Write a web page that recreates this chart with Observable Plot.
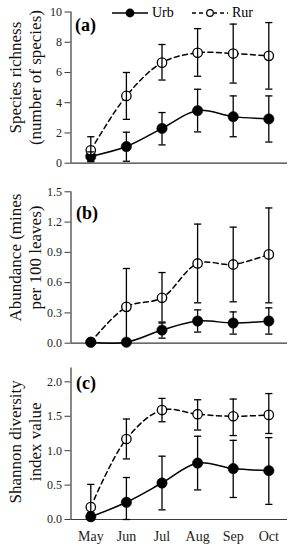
<!DOCTYPE html>
<html><head><meta charset="utf-8">
<script src="https://cdn.jsdelivr.net/npm/d3@7"></script>
<script src="https://cdn.jsdelivr.net/npm/@observablehq/plot@0.6"></script>
<style>
body{margin:0;background:#fff;}
#wrap{position:relative;width:291px;height:550px;overflow:hidden;}
#wrap > div.panel{display:block;line-height:0;}
svg text{font-family:"Liberation Serif","Times New Roman",serif;}
#legend{position:absolute;top:4px;left:0;width:291px;height:18px;font-family:"Liberation Serif",serif;font-size:14px;color:#000;}
#legend .item{position:absolute;top:0;display:flex;align-items:center;height:18px;}
#legend svg{display:block;}
</style></head><body>
<div id="wrap"></div>
<script>
const months = ["May","Jun","Jul","Aug","Sep","Oct"];
const seriesNames = ["Urb","Rur"];

// (a) Species richness (number of species)
const richUrb   = [0.45, 1.10, 2.30, 3.48, 3.08, 2.93];
const richUrbLo = [0.15, 0.13, 1.21, 2.07, 1.75, 1.40];
const richUrbHi = [0.75, 2.05, 3.35, 4.89, 4.45, 4.45];
const richRur   = [0.85, 4.45, 6.65, 7.30, 7.25, 7.10];
const richRurLo = [0.10, 2.90, 5.50, 5.75, 5.30, 4.90];
const richRurHi = [1.75, 6.00, 7.85, 8.90, 9.20, 9.30];

// (b) Abundance (mines per 100 leaves)
const abunUrb   = [0.01, 0.01, 0.13, 0.22, 0.20, 0.22];
const abunUrbLo = [0.01, 0.00, 0.05, 0.11, 0.09, 0.09];
const abunUrbHi = [0.01, 0.03, 0.20, 0.33, 0.31, 0.35];
const abunRur   = [0.01, 0.36, 0.45, 0.79, 0.78, 0.88];
const abunRurLo = [0.01, 0.00, 0.21, 0.40, 0.41, 0.40];
const abunRurHi = [0.01, 0.74, 0.70, 1.18, 1.15, 1.34];

// (c) Shannon diversity index value
const shanUrb   = [0.04, 0.25, 0.53, 0.82, 0.74, 0.71];
const shanUrbLo = [0.00, 0.00, 0.14, 0.43, 0.32, 0.22];
const shanUrbHi = [0.10, 0.61, 0.92, 1.21, 1.15, 1.19];
const shanRur   = [0.18, 1.17, 1.59, 1.53, 1.50, 1.52];
const shanRurLo = [0.00, 0.88, 1.42, 1.30, 1.22, 1.25];
const shanRurHi = [0.51, 1.46, 1.76, 1.74, 1.75, 1.83];

const yTicksA = [0, 2, 4, 6, 8, 10];
const yTicksB = [0, 0.3, 0.6, 0.9, 1.2, 1.5];
const yTicksC = [0, 0.5, 1.0, 1.5, 2.0];

const FONT = "Liberation Serif, Times New Roman, serif";
const AXIS = "#3a3a3a";

function rows(urb, urbLo, urbHi, rur, rurLo, rurHi) {
  const out = [];
  months.forEach((m, i) => {
    out.push({i, s: "Urb", v: urb[i], lo: urbLo[i], hi: urbHi[i]});
    out.push({i, s: "Rur", v: rur[i], lo: rurLo[i], hi: rurHi[i]});
  });
  return out;
}

const capSymbol = {
  draw(context, size) {
    const w = Math.sqrt(size / Math.PI);
    context.moveTo(-w, 0);
    context.lineTo(w, 0);
  }
};

function panel({data, height, marginTop, marginBottom, yDomain, yTicks, yFormat,
                label1, label2, labelDy, tag, tagDx, tagDy, showMonths, urbOnTop}) {
  const urb = data.filter(d => d.s === "Urb");
  const rur = data.filter(d => d.s === "Rur");
  const urbDots = Plot.dot(urb, {x: "i", y: "v", r: 5.2, fill: "#000", stroke: "#000", strokeWidth: 0.5});
  const rurDots = Plot.dot(rur, {x: "i", y: "v", r: 4.7, fill: "#fff", stroke: "#000", strokeWidth: 1.3});
  const marks = [
    Plot.ruleY([yDomain[0]], {stroke: AXIS, strokeWidth: 1.2}),
    Plot.ruleX([-0.556], {stroke: AXIS, strokeWidth: 1.2}),
    Plot.axisY({ticks: yTicks, tickFormat: yFormat, tickSize: 6, tickPadding: 3,
                fontSize: 12, fontFamily: FONT, stroke: AXIS, fill: "#222", label: null}),
    Plot.line(rur, {x: "i", y: "v", curve: "catmull-rom", stroke: "#000", strokeWidth: 1.5, strokeDasharray: "5,3.5"}),
    Plot.line(urb, {x: "i", y: "v", curve: "catmull-rom", stroke: "#000", strokeWidth: 1.5}),
    ...(urbOnTop ? [rurDots, urbDots] : [urbDots, rurDots]),
    Plot.ruleX(data, {x: "i", y1: "lo", y2: "hi", stroke: "#000", strokeWidth: 1.3}),
    Plot.dot(data, {x: "i", y: "hi", r: 3.6, symbol: capSymbol, stroke: "#000", strokeWidth: 1.3, fill: "none"}),
    Plot.dot(data, {x: "i", y: "lo", r: 3.6, symbol: capSymbol, stroke: "#000", strokeWidth: 1.3, fill: "none"}),
    Plot.text([label1], {frameAnchor: "left", rotate: -90, textAnchor: "middle", lineAnchor: "middle",
                         dx: 15 - 70.5, dy: labelDy, fontSize: 17, fontFamily: FONT, fill: "#111"}),
    Plot.text([label2], {frameAnchor: "left", rotate: -90, textAnchor: "middle", lineAnchor: "middle",
                         dx: 35 - 70.5, dy: labelDy, fontSize: 17, fontFamily: FONT, fill: "#111"}),
    Plot.text([tag], {frameAnchor: "top-left", textAnchor: "start", lineAnchor: "middle",
                      dx: tagDx, dy: tagDy, fontSize: 18, fontWeight: "bold", fontFamily: FONT, fill: "#000"})
  ];
  if (showMonths) {
    marks.push(Plot.axisX({ticks: d3.range(months.length), tickFormat: i => months[i], tickSize: 0,
                           tickPadding: 12, fontSize: 14, fontFamily: FONT, fill: "#222", label: null}));
  }
  return Plot.plot({
    width: 291, height, marginLeft: 70.5, marginRight: 4, marginTop, marginBottom,
    style: {fontFamily: FONT, background: "#fff", overflow: "visible"},
    x: {type: "linear", domain: [-0.556, 5.525], axis: null},
    y: {domain: yDomain, axis: null},
    marks
  });
}

const wrap = document.getElementById("wrap");
const fmt1 = d => d.toFixed(1);

const pA = panel({
  data: rows(richUrb, richUrbLo, richUrbHi, richRur, richRurLo, richRurHi),
  height: 180, marginTop: 11.5, marginBottom: 17.3, yDomain: [0, 10], yTicks: yTicksA, yFormat: d => String(d),
  label1: "Species richness", label2: "(number of species)", labelDy: -10,
  tag: "(a)", tagDx: 4, tagDy: 13.5, showMonths: false, urbOnTop: false
});
const pB = panel({
  data: rows(abunUrb, abunUrbLo, abunUrbHi, abunRur, abunRurLo, abunRurHi),
  height: 178, marginTop: 11.3, marginBottom: 15.3, yDomain: [0, 1.5], yTicks: yTicksB, yFormat: fmt1,
  label1: "Abundance (mines", label2: "per 100 leaves)", labelDy: -10,
  tag: "(b)", tagDx: 5, tagDy: 21.5, showMonths: false, urbOnTop: true
});
const pC = panel({
  data: rows(shanUrb, shanUrbLo, shanUrbHi, shanRur, shanRurLo, shanRurHi),
  height: 192, marginTop: 9.6, marginBottom: 31, yDomain: [0, 2.2], yTicks: yTicksC, yFormat: fmt1,
  label1: "Shannon diversity", label2: "index value", labelDy: -2,
  tag: "(c)", tagDx: 5, tagDy: 15, showMonths: true, urbOnTop: false
});

for (const p of [pA, pB, pC]) {
  const d = document.createElement("div");
  d.className = "panel";
  d.appendChild(p);
  wrap.appendChild(d);
}

// Legend (inside panel a, top)
const legend = document.createElement("div");
legend.id = "legend";
const legendItems = [
  {name: seriesNames[0], left: 111, dash: null, fill: "#000", r: 3.8},
  {name: seriesNames[1], left: 191, dash: "4,3", fill: "#fff", r: 3.3}
];
for (const it of legendItems) {
  const item = document.createElement("div");
  item.className = "item";
  item.style.left = it.left + "px";
  const ns = "http://www.w3.org/2000/svg";
  const svg = document.createElementNS(ns, "svg");
  svg.setAttribute("width", 38); svg.setAttribute("height", 18);
  const ln = document.createElementNS(ns, "line");
  ln.setAttribute("x1", 1); ln.setAttribute("x2", 37); ln.setAttribute("y1", 9); ln.setAttribute("y2", 9);
  ln.setAttribute("stroke", "#000"); ln.setAttribute("stroke-width", 1.5);
  if (it.dash) ln.setAttribute("stroke-dasharray", it.dash);
  const c = document.createElementNS(ns, "circle");
  c.setAttribute("cx", 19); c.setAttribute("cy", 9); c.setAttribute("r", it.r);
  c.setAttribute("fill", it.fill); c.setAttribute("stroke", "#000"); c.setAttribute("stroke-width", 1.2);
  svg.appendChild(ln); svg.appendChild(c);
  const t = document.createElement("span");
  t.textContent = it.name;
  t.style.marginLeft = "3px";
  item.appendChild(svg); item.appendChild(t);
  legend.appendChild(item);
}
wrap.appendChild(legend);
</script>
</body></html>
